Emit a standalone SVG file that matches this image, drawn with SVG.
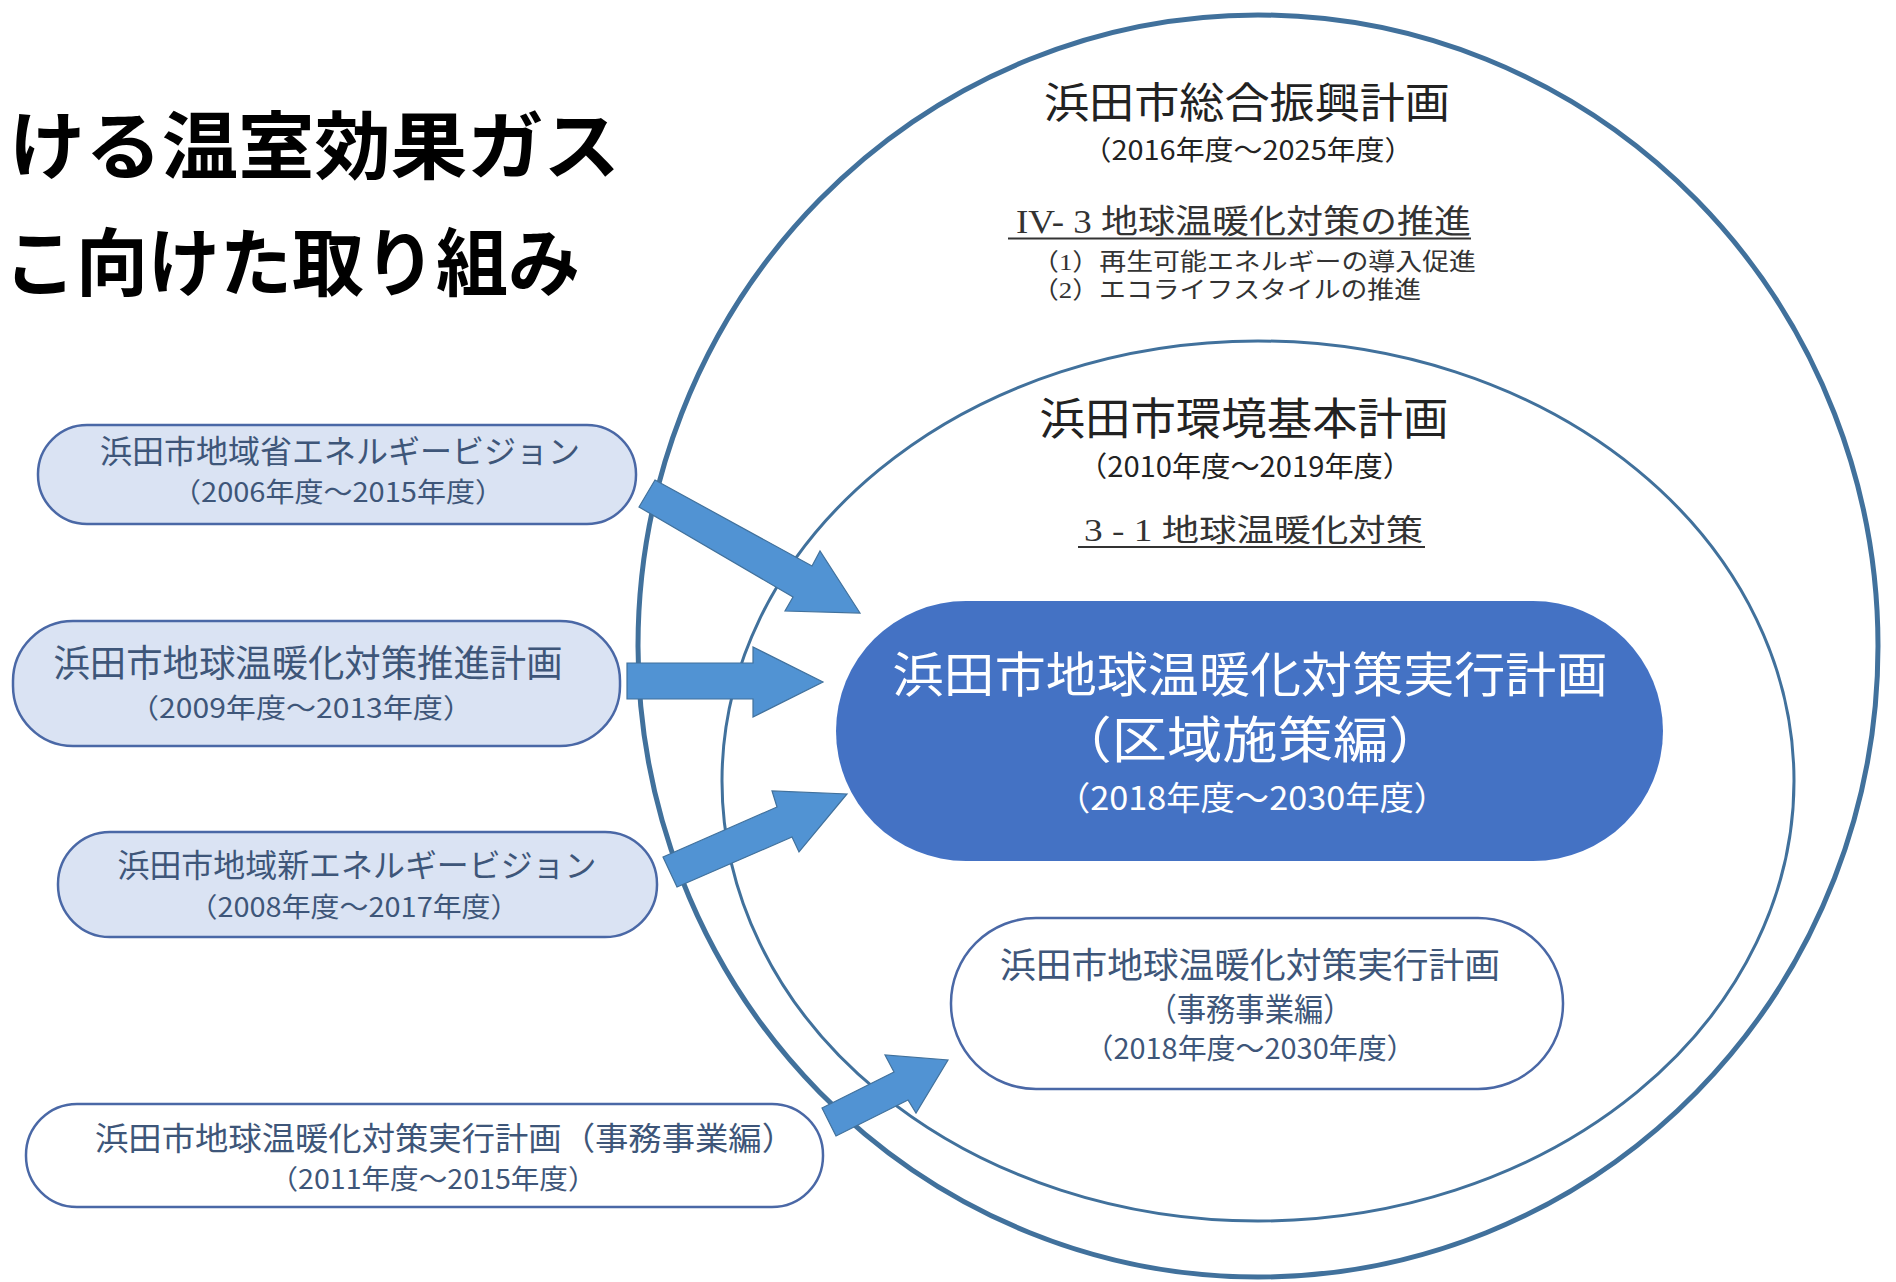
<svg xmlns="http://www.w3.org/2000/svg" width="1896" height="1282" viewBox="0 0 1896 1282">
<style>
.sans{font-family:"Noto Sans CJK JP","Noto Sans",sans-serif;}
.serif{font-family:"Liberation Serif","Noto Sans CJK JP",serif;}
.ring{fill:none;stroke:#41719c;}
.lnode{fill:#dae3f3;stroke:#4a68a6;stroke-width:2.5;}
.wnode{fill:#ffffff;stroke:#4a68a6;stroke-width:2.5;}
.ltext{fill:#3e5679;text-anchor:middle;}
.dark{fill:#222222;text-anchor:middle;}
.arrow{fill:#5193d3;stroke:#41719c;stroke-width:1.2;}
</style>
<rect x="0" y="0" width="1896" height="1282" fill="#ffffff"/>

<g id="title">
<text class="sans" x="9" y="173" font-size="74" font-weight="bold" fill="#000" textLength="611" lengthAdjust="spacingAndGlyphs">ける温室効果ガス</text>
<text class="sans" x="4" y="290" font-size="74" font-weight="bold" fill="#000" textLength="576" lengthAdjust="spacingAndGlyphs">こ向けた取り組み</text>
</g>

<g id="outer-plan">
<ellipse class="ring" cx="1258" cy="646" rx="620" ry="631" stroke-width="5"/>
<text class="sans dark" x="1247" y="118" font-size="42" textLength="406" lengthAdjust="spacingAndGlyphs">浜田市総合振興計画</text>
<text class="sans dark" x="1248" y="160" font-size="27" textLength="331" lengthAdjust="spacingAndGlyphs">（2016年度～2025年度）</text>
<text class="serif" x="1016" y="233" font-size="33" fill="#333" textLength="455" lengthAdjust="spacingAndGlyphs">IV- 3  地球温暖化対策の推進</text>
<line x1="1008" y1="238.5" x2="1471" y2="238.5" stroke="#333" stroke-width="2"/>
<text class="serif" x="1032" y="270" font-size="24" fill="#333" textLength="444" lengthAdjust="spacingAndGlyphs">（1）再生可能エネルギーの導入促進</text>
<text class="serif" x="1032" y="298" font-size="24" fill="#333" textLength="389" lengthAdjust="spacingAndGlyphs">（2）エコライフスタイルの推進</text>
</g>

<g id="inner-plan">
<ellipse class="ring" cx="1258" cy="781" rx="536" ry="440" stroke-width="3"/>
<text class="sans dark" x="1244" y="435" font-size="44" textLength="409" lengthAdjust="spacingAndGlyphs">浜田市環境基本計画</text>
<text class="sans dark" x="1245" y="477" font-size="28" textLength="334" lengthAdjust="spacingAndGlyphs">（2010年度～2019年度）</text>
<text class="serif" x="1084" y="541" font-size="31" fill="#333" textLength="339" lengthAdjust="spacingAndGlyphs">3 - 1  地球温暖化対策</text>
<line x1="1078" y1="547" x2="1425" y2="547" stroke="#333" stroke-width="2"/>
</g>

<g id="node-shoene">
<rect class="lnode" x="38" y="425" width="598" height="99" rx="49"/>
<text class="sans ltext" x="340" y="463" font-size="32" textLength="480" lengthAdjust="spacingAndGlyphs">浜田市地域省エネルギービジョン</text>
<text class="sans ltext" x="338" y="502" font-size="27" textLength="332" lengthAdjust="spacingAndGlyphs">（2006年度～2015年度）</text>
</g>

<g id="node-suishin">
<rect class="lnode" x="13" y="621" width="607" height="125" rx="60"/>
<text class="sans ltext" x="308" y="677" font-size="37" textLength="509" lengthAdjust="spacingAndGlyphs">浜田市地球温暖化対策推進計画</text>
<text class="sans ltext" x="301" y="718" font-size="27" textLength="344" lengthAdjust="spacingAndGlyphs">（2009年度～2013年度）</text>
</g>

<g id="node-shinene">
<rect class="lnode" x="58" y="832" width="599" height="105" rx="52"/>
<text class="sans ltext" x="357" y="877" font-size="32" textLength="479" lengthAdjust="spacingAndGlyphs">浜田市地域新エネルギービジョン</text>
<text class="sans ltext" x="354" y="917" font-size="27" textLength="331" lengthAdjust="spacingAndGlyphs">（2008年度～2017年度）</text>
</g>

<g id="node-jimu-old">
<rect class="wnode" x="26" y="1104" width="797" height="103" rx="51"/>
<text class="sans ltext" x="445" y="1150" font-size="32" textLength="700" lengthAdjust="spacingAndGlyphs">浜田市地球温暖化対策実行計画（事務事業編）</text>
<text class="sans ltext" x="433" y="1189" font-size="27" textLength="327" lengthAdjust="spacingAndGlyphs">（2011年度～2015年度）</text>
</g>

<g id="node-kuiki">
<rect x="836" y="601" width="827" height="260" rx="130" fill="#4472c4"/>
<text class="sans" x="1250" y="692" font-size="48" fill="#fff" text-anchor="middle" textLength="715" lengthAdjust="spacingAndGlyphs">浜田市地球温暖化対策実行計画</text>
<text class="sans" x="1250" y="758" font-size="50" fill="#fff" text-anchor="middle" textLength="387" lengthAdjust="spacingAndGlyphs">（区域施策編）</text>
<text class="sans" x="1252" y="810" font-size="33" fill="#fff" text-anchor="middle" textLength="392" lengthAdjust="spacingAndGlyphs">（2018年度～2030年度）</text>
</g>

<g id="node-jimu-new">
<rect class="wnode" x="951" y="918" width="612" height="171" rx="85"/>
<text class="sans ltext" x="1250" y="978" font-size="35" textLength="500" lengthAdjust="spacingAndGlyphs">浜田市地球温暖化対策実行計画</text>
<text class="sans ltext" x="1250" y="1021" font-size="32" textLength="205" lengthAdjust="spacingAndGlyphs">（事務事業編）</text>
<text class="sans ltext" x="1250" y="1059" font-size="28" textLength="331" lengthAdjust="spacingAndGlyphs">（2018年度～2030年度）</text>
</g>

<g id="connectors">
<polygon class="arrow" points="655,480 812,566 820,551 860,613 785,611 793,597 639,507"/>
<polygon class="arrow" points="627,663 753,663 753,647 823,682 753,717 753,699 627,699"/>
<polygon class="arrow" points="663,857 777,807 772,791 847,794 799,852 792,837 677,887"/>
<polygon class="arrow" points="822,1108 894,1072 885,1055 948,1060 916,1113 908,1100 836,1136"/>
</g>
</svg>
